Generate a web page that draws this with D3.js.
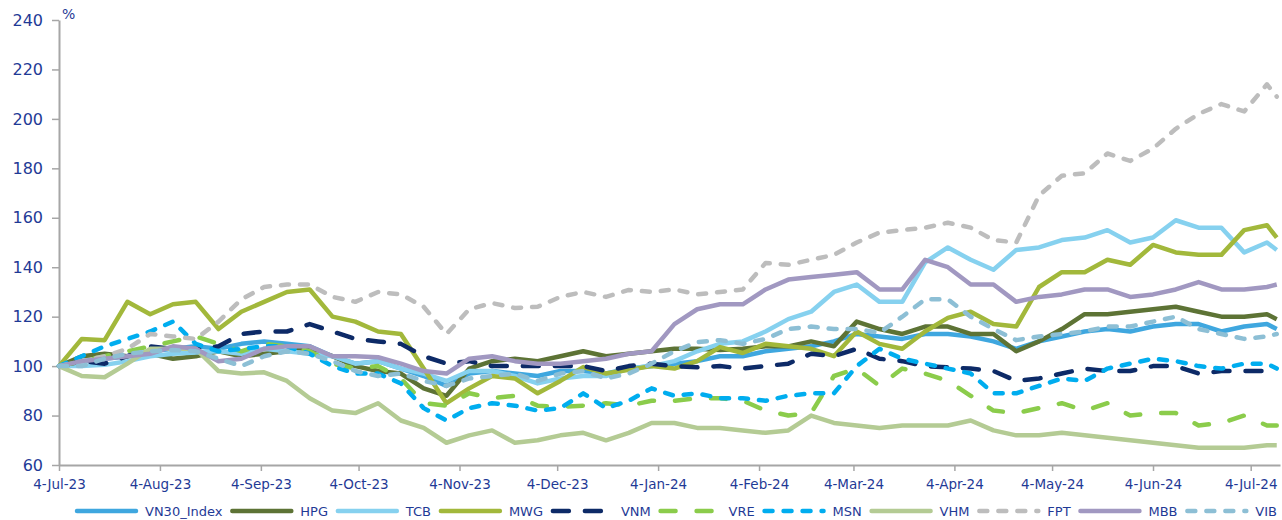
<!DOCTYPE html>
<html><head><meta charset="utf-8">
<script src="https://cdn.jsdelivr.net/npm/d3@7"></script>
<style>
html,body{margin:0;padding:0;background:#fff;}
svg{display:block;font-family:"DejaVu Sans",sans-serif;}
</style></head>
<body><svg id="c" width="1282" height="520"></svg>
<script>
const dates = ["2023-07-04","2023-07-11","2023-07-18","2023-07-25","2023-08-01","2023-08-08","2023-08-15","2023-08-22","2023-08-29","2023-09-05",
"2023-09-12","2023-09-19","2023-09-26","2023-10-03","2023-10-10","2023-10-17","2023-10-24","2023-10-31","2023-11-07","2023-11-14",
"2023-11-21","2023-11-28","2023-12-05","2023-12-12","2023-12-19","2023-12-26","2024-01-02","2024-01-09","2024-01-16","2024-01-23",
"2024-01-30","2024-02-06","2024-02-13","2024-02-20","2024-02-27","2024-03-05","2024-03-12","2024-03-19","2024-03-26","2024-04-02",
"2024-04-09","2024-04-16","2024-04-23","2024-04-30","2024-05-07","2024-05-14","2024-05-21","2024-05-28","2024-06-04","2024-06-11",
"2024-06-18","2024-06-25","2024-07-02","2024-07-09","2024-07-12"];

const VN30_Index = [100,102,103,104,106,107,108,107,109,110, 109,108,104,101,102,99,96,92,97,98, 97,96,98,98,97,99,100,101,102,104, 104,106,107,108,110,113,112,111,113,113, 112,110,107,110,112,114,115,114,116,117, 117,114,116,117,115];
const HPG = [100,104,105,104,105,103,104,106,104,105, 106,107,104,100,98,97,91,88,99,102, 103,102,104,106,104,105,106,107,107,106.5, 107,108,108,110,108,118,115,113,116,116, 113,113,106,110,115,121,121,122,123,124, 122,120,120,121,119];
const TCB = [100,100,100.5,102,104,105,105.5,106,105,107, 106,105,104,101,102,99,97,94,98,98, 96,93,95,96,96,99,100,102,106,109, 110,114,119,122,130,133,126,126,142,148, 143,139,147,148,151,152,155,150,152,159, 156,156,146,150,147];
const MWG = [100,111,110.5,126,121,125,126,115,122,126, 130,131,120,118,114,113,99,85,91,96, 95,89,94,99.6,97,98.5,100,99,102,107.7, 105.3,109,108,107,104,114,109,107,114,119.5, 122,117,116,132,138,138,143,141,149,146, 145,145,155,157,152];
const VNM = [100,102,101,104,108,107,107,108,113,114, 114,117,114,111,110,109,104,101,102,100, 100,100,100,100,98,100,101,100,99.5,100, 99,100,101,105,104,107,103,102,100,99.5, 99,98,94,95,97,99,98,98,100,100, 97,98,98,98,98];
const VRE = [100,102,104,106,108,110,112,109,106,109, 108,106,101,99,100,95,85,84,89,87, 88,84,83.5,84,85,84,86,86,87,87, 86,82,80,81,96,99,92,99,97,94, 88,82,81,83,85,82,85,80,81,81, 76,77,80,76,76];
const MSN = [100,104,108,111,114,118,109,106,107,108, 108,105,100,97,97,93,83,78,83,85, 84,82,83,89,83,86,91,88,89,87, 87,86,88,89,89,100,107,103,101,99, 97,89,89,92,95,94,99,101,103,102, 100,99,101,101,99];
const VHM = [100,96,95.5,101,107,107,107,98,97,97.5, 94,87,82,81,85,78,75,69,72,74, 69,70,72,73,70,73,77,77,75,75, 74,73,74,80,77,76,75,76,76,76, 78,74,72,72,73,72,71,70,69,68, 67,67,67,68,68];
const FPT = [100,102,104,107,113,112,111,118,127,132, 133,133,128,126,130,129,124,113,123,125.5, 123.5,124,128,130,128,130.8,130,131,129,130, 131,141.7,141,143,145,150,154,155,156,158, 156,151,150,169,177,178,186,183,188,196, 202,206,203,214,209];
const MBB = [100,102,103,104,105,108,107,102,103,107, 108,108,104,104,103.6,101,98,97,103,104, 102,101,101,102,103,105,106,117,123,125, 125,131,135,136,137,138,131,131,143,140, 133,133,126,128,129,131,131,128,129,131, 134,131,131,132,133];
const VIB = [100,100,103,105,106,106.5,106,103,100,104, 106,105,102,98,96,97,94,92,95,96, 97,94,97,98,95,97,101,106,109.7,110.5, 109,111,115,116,115,115,113.5,120,127,127, 120,115,110.5,112,113,114,116,116,118,120, 115,113,111,112,113];

const seriesNames = ["VN30_Index","HPG","TCB","MWG","VNM","VRE","MSN","VHM","FPT","MBB","VIB"];
const seriesValues = [VN30_Index,HPG,TCB,MWG,VNM,VRE,MSN,VHM,FPT,MBB,VIB];
const seriesColors = ["#3fa7df","#5d7335","#86d1ef","#a2b83b","#0d2a67","#8bcc4b","#00adef","#b4cb94","#bdbdbd","#a198c1","#8dbfd5"];
const dashKind = ["solid","solid","solid","solid","long","vlong","short","solid","short","solid","short"];
const dashPatterns = {solid:null, long:"16,16", vlong:"15,21", short:"8,11"};

const xTickLabels = ["4-Jul-23","4-Aug-23","4-Sep-23","4-Oct-23","4-Nov-23","4-Dec-23","4-Jan-24","4-Feb-24","4-Mar-24","4-Apr-24","4-May-24","4-Jun-24","4-Jul-24"];
const yTicks = [60,80,100,120,140,160,180,200,220,240];
const yUnit = "%";

const svg = d3.select("#c");
const txt = "#1f3a96";
const parse = d3.timeParse("%Y-%m-%d");
const parseLbl = d3.timeParse("%-d-%b-%y");
const D = dates.map(parse);

const x = d3.scaleTime().domain([new Date(2023,6,4), new Date(2024,6,13)]).range([59,1280]);
const y = d3.scaleLinear().domain([60,240]).range([465,20]);

const xAxis = svg.append("g").attr("transform","translate(0,465)")
  .call(d3.axisBottom(x).tickValues(xTickLabels.map(parseLbl)).tickFormat((d,i)=>xTickLabels[i]).tickSize(6).tickSizeOuter(0));
xAxis.select(".domain").attr("stroke","#a6a6a6").attr("stroke-width",2);
xAxis.selectAll(".tick line").attr("stroke","#a6a6a6").attr("stroke-width",1.5);
xAxis.selectAll(".tick text").attr("fill",txt).attr("font-size",13.5).attr("font-family","DejaVu Sans").attr("dy","0.71em").attr("y",14);

const yAxis = svg.append("g").attr("transform","translate(59,0)")
  .call(d3.axisLeft(y).tickValues(yTicks).tickSize(7).tickSizeOuter(0).tickPadding(9));
yAxis.select(".domain").attr("stroke","#a6a6a6").attr("stroke-width",2);
yAxis.selectAll(".tick line").attr("stroke","#a6a6a6").attr("stroke-width",1.5);
yAxis.selectAll(".tick text").attr("fill",txt).attr("font-size",16).attr("font-family","DejaVu Sans");

svg.append("text").attr("x",62).attr("y",19).attr("fill",txt).attr("font-size",14).text(yUnit);

const dashFor = i => dashPatterns[dashKind[i]];

const line = d3.line().x((d,i)=>x(D[i])).y(d=>y(d));
const g = svg.append("g");
seriesValues.forEach((vals,i)=>{
  g.append("path").datum(vals).attr("d",line)
    .attr("fill","none").attr("stroke",seriesColors[i]).attr("stroke-width",4.5)
    .attr("stroke-linejoin","round").attr("stroke-linecap", dashKind[i]==="solid" ? "butt" : "round")
    .attr("stroke-dasharray", dashFor(i));
});

const lg = svg.append("g");
const lineLen = 63, gapText = 7;
const items = seriesNames.map((n,i)=>{
  const t = lg.append("text").attr("font-size",13).attr("fill",txt).text(n).attr("y",516);
  return {t, w: t.node().getComputedTextLength(), i};
});
const startX = 75, endX = 1277;
const totalFixed = items.reduce((s,it)=>s+lineLen+gapText+it.w,0);
const gap = (endX-startX-totalFixed)/(items.length-1);
let cx = startX;
items.forEach(it=>{
  lg.append("line").attr("x1",cx+2).attr("x2",cx+lineLen-2).attr("y1",511).attr("y2",511)
    .attr("stroke",seriesColors[it.i]).attr("stroke-width",4.5)
    .attr("stroke-linecap","round")
    .attr("stroke-dasharray", dashFor(it.i));
  it.t.attr("x",cx+lineLen+gapText);
  cx += lineLen+gapText+it.w+gap;
});
</script></body></html>
